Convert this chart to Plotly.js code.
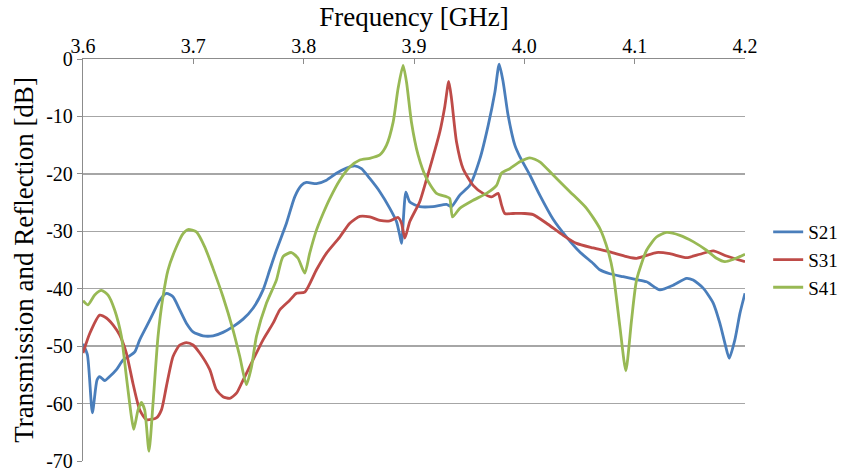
<!DOCTYPE html>
<html>
<head>
<meta charset="utf-8">
<script src="https://cdn.plot.ly/plotly-3.0.1.min.js"></script>
<style>html,body{margin:0;padding:0;background:#fff;}#chart{width:845px;height:475px;}</style>
</head>
<body>
<div id="chart"></div>
<script>
// Frequency [GHz] and dB values
const s21Freq = [3.600,3.604,3.6085,3.6127,3.6151,3.6197,3.6242,3.6303,3.6363,3.6423,3.6469,3.6514,3.6575,3.6635,3.6695,3.6756,3.6816,3.6877,3.6937,3.6997,3.7088,3.7179,3.7269,3.7360,3.7451,3.7541,3.7632,3.7693,3.7753,3.7844,3.7919,3.7980,3.8025,3.8116,3.8207,3.8297,3.8388,3.8463,3.8524,3.8599,3.8690,3.8781,3.8841,3.8871,3.8887,3.8926,3.8962,3.9053,3.9173,3.9295,3.9340,3.9415,3.9506,3.9597,3.9672,3.9733,3.9772,3.9808,3.9853,3.9914,3.9959,4.0050,4.0140,4.0261,4.0383,4.0503,4.0624,4.0684,4.0775,4.0896,4.1017,4.1108,4.1228,4.1349,4.1470,4.1530,4.1621,4.1712,4.1772,4.1818,4.1857,4.1908,4.1954,4.2000];
const s21Values = [-49.6,-51.5,-61.6,-55.9,-55.3,-56.0,-55.3,-54.1,-52.4,-51.7,-51.0,-48.9,-46.6,-44.3,-42.0,-40.8,-41.4,-43.7,-46.0,-47.5,-48.2,-48.2,-47.6,-46.6,-45.3,-43.4,-40.2,-36.7,-33.3,-28.6,-24.0,-22.0,-21.5,-21.7,-21.1,-19.9,-19.0,-18.6,-19.1,-20.8,-23.1,-26.0,-28.3,-30.7,-32.1,-23.2,-24.9,-25.7,-25.7,-25.3,-25.7,-23.7,-22.0,-17.4,-11.6,-5.8,-0.9,-4.0,-9.8,-15.0,-17.0,-20.2,-23.7,-27.9,-31.0,-33.6,-35.6,-36.7,-37.4,-37.9,-38.4,-38.8,-40.2,-39.4,-38.2,-38.5,-39.9,-42.5,-46.0,-49.5,-52.1,-48.9,-44.3,-40.8];

const s31Freq = [3.600,3.6061,3.6151,3.6212,3.6272,3.6333,3.6393,3.6453,3.6514,3.6575,3.6665,3.6711,3.6756,3.6816,3.6877,3.6937,3.6997,3.7058,3.7149,3.7209,3.7269,3.7330,3.7391,3.7451,3.7541,3.7632,3.7723,3.7783,3.7874,3.7935,3.8010,3.8116,3.8207,3.8327,3.8418,3.8509,3.8599,3.8690,3.8781,3.8856,3.8887,3.8917,3.8962,3.9053,3.9113,3.9173,3.9234,3.9279,3.9315,3.9340,3.9385,3.9445,3.9536,3.9626,3.9703,3.9762,3.9793,3.9823,3.9898,4.0004,4.0080,4.0201,4.0352,4.0473,4.0624,4.0775,4.0927,4.1017,4.1198,4.1319,4.1470,4.1591,4.1712,4.1833,4.2000];
const s31Values = [-51.2,-47.8,-44.6,-45.1,-46.3,-48.1,-51.2,-56.5,-61.1,-62.8,-62.5,-61.1,-57.0,-51.8,-49.8,-49.4,-49.8,-51.2,-54.1,-57.6,-58.8,-59.1,-58.2,-55.9,-52.4,-48.9,-46.0,-43.7,-42.0,-40.8,-40.6,-36.7,-33.8,-31.0,-28.6,-27.4,-27.5,-28.1,-28.2,-27.6,-28.6,-31.2,-28.3,-24.8,-21.0,-17.0,-12.7,-8.3,-3.9,-6.9,-14.4,-19.1,-22.0,-23.4,-24.0,-23.4,-25.4,-26.9,-26.9,-26.9,-27.1,-28.6,-30.7,-32.1,-32.9,-33.6,-34.4,-34.7,-33.7,-33.9,-34.6,-34.0,-33.4,-34.3,-35.3];

const s41Freq = [3.600,3.6045,3.6106,3.6167,3.6227,3.6287,3.6348,3.6393,3.6439,3.6460,3.6499,3.6529,3.6559,3.6598,3.6635,3.6680,3.6725,3.6771,3.6847,3.6907,3.6952,3.7028,3.7103,3.7179,3.7269,3.7360,3.7421,3.7481,3.7527,3.7572,3.7663,3.7753,3.7813,3.7889,3.7949,3.8010,3.8055,3.8116,3.8176,3.8237,3.8327,3.8418,3.8509,3.8599,3.8690,3.8751,3.8811,3.8856,3.8901,3.8932,3.8977,3.9037,3.9113,3.9204,3.9295,3.9324,3.9349,3.9415,3.9536,3.9657,3.9748,3.9793,3.9868,3.9959,4.0050,4.0140,4.0261,4.0413,4.0564,4.0684,4.0760,4.0805,4.0866,4.0920,4.0972,4.1017,4.1108,4.1198,4.1289,4.1410,4.1530,4.1651,4.1742,4.1818,4.1893,4.2000];
const s41Values = [-42.1,-42.8,-41.1,-40.3,-41.1,-43.7,-48.3,-55.3,-62.3,-64.5,-61.1,-59.8,-61.1,-68.3,-59.9,-48.3,-41.4,-36.7,-32.7,-30.4,-29.7,-30.1,-32.7,-36.5,-41.4,-47.2,-51.8,-56.7,-53.6,-48.3,-42.5,-38.5,-34.4,-33.7,-34.7,-37.3,-33.8,-29.8,-26.9,-24.3,-21.1,-18.8,-17.6,-17.3,-16.7,-15.0,-11.0,-5.1,-1.1,-4.0,-11.0,-16.7,-20.8,-23.4,-24.0,-24.3,-27.5,-26.0,-24.6,-23.4,-22.0,-19.9,-19.1,-17.9,-17.2,-17.9,-20.2,-23.1,-26.0,-29.5,-33.5,-37.3,-46.6,-54.3,-45.4,-38.5,-33.3,-31.0,-30.2,-30.7,-31.8,-33.3,-34.7,-35.3,-34.9,-34.0];

const seriesNames = ['S21','S31','S41'];
const seriesColors = ['#4a7ebb','#be4b48','#98b954'];
const xTickVals = [3.6,3.7,3.8,3.9,4.0,4.1,4.2];
const xTickText = ['3.6','3.7','3.8','3.9','4.0','4.1','4.2'];
const yTickVals = [0,-10,-20,-30,-40,-50,-60,-70];
const yTickText = ['0','-10','-20','-30','-40','-50','-60','-70'];

const font = '"Liberation Serif", "Times New Roman", serif';
const xs = [s21Freq, s31Freq, s41Freq];
const ys = [s21Values, s31Values, s41Values];
const traces = seriesNames.map((n,i)=>({
  x: xs[i], y: ys[i], name: n, type: 'scatter', mode: 'lines',
  line: {color: seriesColors[i], width: 2.8, shape: 'spline', smoothing: 0.6}
}));

const layout = {
  width: 845, height: 475,
  margin: {l: 83, r: 100, t: 59, b: 14, autoexpand: false},
  paper_bgcolor: '#fff', plot_bgcolor: '#fff',
  font: {family: font, size: 20, color: '#000'},
  showlegend: true,
  legend: {x: 1.035, xanchor: 'left', y: 0.5, yanchor: 'middle', font: {family: font, size: 19, color: '#000'}, bgcolor: 'rgba(0,0,0,0)'},
  xaxis: {
    side: 'top', range: [3.6, 4.2], tickvals: xTickVals, ticktext: xTickText,
    showgrid: false, zeroline: false, showline: true, linecolor: '#8c8c8c', linewidth: 1.2,
    ticks: 'inside', ticklen: 5, tickcolor: '#8c8c8c', automargin: false, ticklabelstandoff: -3,
    tickfont: {family: font, size: 20, color: '#000'},
    title: {text: 'Frequency [GHz]', font: {family: font, size: 27, color: '#000'}, standoff: 0}
  },
  yaxis: {
    range: [-70, 0], tickvals: yTickVals, ticktext: yTickText,
    showgrid: true, gridcolor: '#a6a6a6', gridwidth: 1.5, zeroline: false,
    showline: true, linecolor: '#8c8c8c', linewidth: 1.2, automargin: false,
    ticks: 'outside', ticklen: 5, tickcolor: '#8c8c8c',
    tickfont: {family: font, size: 20, color: '#000'},
    title: {text: 'Transmission and Reflection [dB]', font: {family: font, size: 27, color: '#000'}, standoff: 4}
  }
};
Plotly.newPlot('chart', traces, layout, {displayModeBar: false, staticPlot: true});
</script>
</body>
</html>
